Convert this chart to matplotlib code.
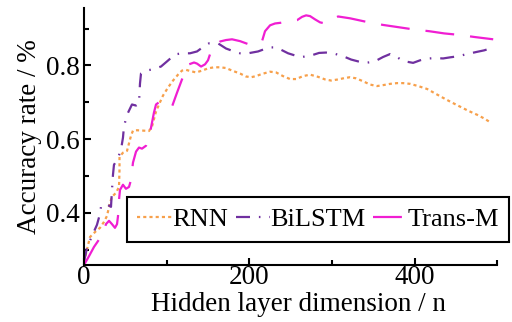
import numpy as np
import matplotlib.pyplot as plt

plt.rcParams['font.family'] = ['Liberation Serif', 'DejaVu Serif']
plt.rcParams['mathtext.fontset'] = 'stix'

# hidden layer dimension vs. accuracy for each model
rnn_x = [0, 7.3, 14.5, 19.4, 24.2, 27.8, 31.5, 33.9, 38.7, 42.4, 43.0, 43.0,
         47.2, 52.1, 56.9, 59.3, 64.2, 71.4, 78.7, 82.3, 87.2, 90.8, 95.6,
         101.7, 107.8, 113.8, 118.6, 123.5, 128.3, 135.6, 142.9, 150.1, 157.4,
         164.7, 171.9, 179.2, 188.9, 196.1, 202.2, 208.2, 215.5, 225.2, 232.5,
         240.9, 249.4, 256.7, 265.1, 273.6, 283.3, 291.8, 299.0, 307.5, 316.0,
         322.0, 329.3, 337.8, 346.3, 354.7, 363.2, 370.5, 379.0, 386.2, 394.7,
         404.4, 415.3, 424.9, 434.6, 445.5, 455.2, 464.9, 475.8, 484.3, 492.8]
rnn_y = [0.266, 0.334, 0.350, 0.359, 0.375, 0.391, 0.427, 0.443, 0.454, 0.470,
         0.517, 0.552, 0.563, 0.568, 0.609, 0.623, 0.624, 0.623, 0.622, 0.634,
         0.675, 0.694, 0.718, 0.740, 0.759, 0.775, 0.786, 0.788, 0.785, 0.781,
         0.786, 0.792, 0.795, 0.795, 0.793, 0.786, 0.778, 0.770, 0.768, 0.771,
         0.777, 0.783, 0.781, 0.771, 0.763, 0.763, 0.771, 0.775, 0.769, 0.762,
         0.759, 0.762, 0.766, 0.768, 0.765, 0.757, 0.748, 0.744, 0.747, 0.750,
         0.752, 0.752, 0.750, 0.744, 0.736, 0.724, 0.712, 0.699, 0.688, 0.677,
         0.666, 0.656, 0.644]

bilstm_x = [0, 3.6, 9.7, 15.7, 19.4, 20.6, 24.2, 29.1, 32.7, 33.9, 35.1, 36.3,
            41.2, 44.8, 47.2, 48.4, 52.1, 58.1, 63.0, 66.6, 67.2, 67.8, 69.0,
            75.1, 82.3, 93.2, 100.5, 110.2, 118.6, 128.3, 136.8, 145.3, 151.3,
            162.2, 171.9, 181.6, 188.9, 198.6, 210.7, 217.9, 225.2, 232.5,
            237.3, 247.0, 255.5, 263.9, 274.8, 284.5, 293.0, 301.5, 313.6,
            323.3, 331.7, 340.2, 351.1, 362.0, 370.5, 376.5, 386.2, 398.3,
            406.8, 412.8, 423.7, 434.6, 443.1, 452.8, 463.7, 475.8, 484.3, 491.5]
bilstm_y = [0.266, 0.304, 0.337, 0.367, 0.397, 0.416, 0.424, 0.421, 0.416,
            0.462, 0.503, 0.530, 0.549, 0.571, 0.604, 0.634, 0.666, 0.694,
            0.691, 0.696, 0.726, 0.751, 0.778, 0.786, 0.789, 0.797, 0.811,
            0.830, 0.833, 0.833, 0.838, 0.852, 0.860, 0.860, 0.846, 0.838,
            0.833, 0.833, 0.838, 0.844, 0.849, 0.849, 0.844, 0.833, 0.827,
            0.823, 0.827, 0.834, 0.835, 0.833, 0.825, 0.816, 0.811, 0.807,
            0.810, 0.823, 0.831, 0.826, 0.812, 0.807, 0.814, 0.818, 0.820,
            0.819, 0.822, 0.825, 0.831, 0.837, 0.841, 0.846]

trans_x = [0, 6.1, 12.1, 19.4, 24.2, 26.6, 30.3, 33.9, 37.5, 40.0, 41.2, 42.4,
           43.6, 47.2, 50.8, 54.5, 56.9, 59.3, 63.0, 66.6, 70.2, 75.1, 79.9,
           84.7, 87.2, 92.0, 99.3, 106.5, 112.6, 118.6, 123.5, 127.1, 133.2,
           136.8, 141.7, 146.5, 150.1, 152.5, 158.6, 164.7, 171.9, 179.2,
           188.9, 199.8, 207.0, 215.5, 219.1, 225.2, 231.2, 238.5, 249.4,
           257.9, 263.9, 268.8, 273.6, 279.7, 285.7, 291.8, 300.3, 307.5,
           322.0, 342.6, 362.0, 380.2, 398.3, 417.7, 435.9, 454.0, 473.4, 495.2]
trans_y = [0.258, 0.282, 0.307, 0.331, 0.350, 0.369, 0.378, 0.369, 0.359,
           0.369, 0.391, 0.435, 0.462, 0.476, 0.465, 0.470, 0.489, 0.536,
           0.566, 0.577, 0.574, 0.582, 0.617, 0.672, 0.694, 0.702, 0.696,
           0.688, 0.726, 0.762, 0.789, 0.803, 0.808, 0.805, 0.797, 0.803,
           0.814, 0.830, 0.852, 0.865, 0.869, 0.871, 0.866, 0.857, 0.860,
           0.866, 0.893, 0.909, 0.914, 0.916, 0.920, 0.923, 0.932, 0.936,
           0.934, 0.925, 0.917, 0.914, 0.925, 0.933, 0.928, 0.918, 0.910,
           0.904, 0.898, 0.893, 0.887, 0.883, 0.877, 0.871]

fs = 19.5

fig = plt.figure(figsize=(5.12, 3.22), dpi=100)
ax = fig.add_axes([0.164, 0.177, 0.807, 0.797])

lw = 1.6
ax.plot(rnn_x, rnn_y, color='#f7a04b', lw=lw,
        linestyle=(0, (1.4, 1.4)), label='RNN')
ax.plot(bilstm_x, bilstm_y, color='#7030a0', lw=lw,
        linestyle=(0, (6.3, 4.0, 0.7, 4.0)), label='BiLSTM')
ax.plot(trans_x, trans_y, color='#f01ed2', lw=lw,
        linestyle=(0, (13, 7.2)), label='Trans-M')

ax.set_xlim(0, 500)
ax.set_ylim(0.258, 0.955)
ax.set_xticks([0, 200, 400])
ax.set_xticks([100, 300, 500], minor=True)
ax.set_yticks([0.4, 0.6, 0.8])
ax.set_yticks([0.3, 0.5, 0.7, 0.9], minor=True)
ax.tick_params(which='both', direction='in', labelsize=fs, width=1.5)
ax.tick_params(which='major', length=5)
ax.tick_params(axis='x', which='major', pad=0)
ax.tick_params(axis='y', which='major', pad=3)
ax.tick_params(which='minor', length=3.5)
for side in ['top', 'right']:
    ax.spines[side].set_visible(False)
for side in ['left', 'bottom']:
    ax.spines[side].set_linewidth(1.5)

ax.set_xlabel('Hidden layer dimension / n', fontsize=fs)
ax.xaxis.set_label_coords(0.52, -0.105, transform=ax.transAxes)
ax.xaxis.label.set_va('top')
ax.set_ylabel('Accuracy rate / %', fontsize=fs, labelpad=3)

leg = ax.legend(
    loc='lower left',
    bbox_to_anchor=(0.104, 0.09),
    ncol=3,
    fontsize=19,
    frameon=True,
    fancybox=False,
    framealpha=1,
    edgecolor='black',
    handlelength=1.3,
    handletextpad=0.0,
    columnspacing=0.3,
    borderpad=0.4,
    borderaxespad=0)
leg.get_frame().set_linewidth(1.5)

fig.savefig('out.png', dpi=100)
